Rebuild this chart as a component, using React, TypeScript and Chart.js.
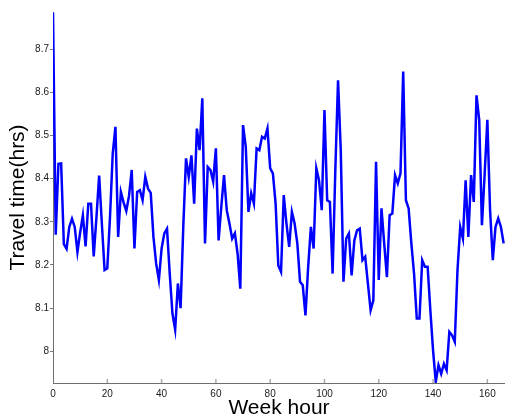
import React, { useEffect, useRef } from "react";
import { Chart, registerables } from "chart.js";

Chart.register(...registerables);

// Average travel time (hours) for each hour of the week, hour 0 .. 166
const TRAVEL_TIME: number[] = [
  8.785, 8.27, 8.434, 8.435, 8.248, 8.237, 8.288, 8.307, 8.288, 8.23,
  8.275, 8.315, 8.243, 8.342, 8.342, 8.22, 8.31, 8.407, 8.296, 8.188,
  8.192, 8.311, 8.458, 8.52, 8.265, 8.369, 8.345, 8.325, 8.36, 8.42,
  8.238, 8.369, 8.373, 8.35, 8.404, 8.377, 8.367, 8.265, 8.203, 8.165,
  8.238, 8.273, 8.284, 8.18, 8.087, 8.05, 8.157, 8.1, 8.29, 8.447,
  8.404, 8.454, 8.342, 8.516, 8.466, 8.586, 8.25, 8.427, 8.42, 8.393,
  8.47, 8.257, 8.335, 8.408, 8.327, 8.296, 8.261, 8.273, 8.226, 8.145,
  8.524, 8.474, 8.323, 8.366, 8.342, 8.47, 8.466, 8.497, 8.493, 8.516,
  8.424, 8.412, 8.342, 8.199, 8.184, 8.362, 8.296, 8.242, 8.323, 8.296,
  8.25, 8.161, 8.153, 8.083, 8.196, 8.288, 8.238, 8.424, 8.396, 8.327,
  8.559, 8.35, 8.346, 8.18, 8.42, 8.628, 8.466, 8.161, 8.261, 8.273,
  8.176, 8.257, 8.28, 8.284, 8.211, 8.219, 8.157, 8.095, 8.118, 8.439,
  8.165, 8.331, 8.25, 8.172, 8.315, 8.319, 8.408, 8.389, 8.412, 8.648,
  8.35, 8.331, 8.25, 8.18, 8.076, 8.076, 8.211, 8.196, 8.196, 8.095,
  8.002, 7.929, 7.968, 7.948, 7.971, 7.956, 8.045, 8.037, 8.022, 8.188,
  8.288, 8.261, 8.396, 8.265, 8.408, 8.346, 8.593, 8.536, 8.292, 8.41,
  8.536, 8.327, 8.211, 8.288, 8.308, 8.288, 8.25,
];

const X_TICKS: number[] = [0, 20, 40, 60, 80, 100, 120, 140, 160];
const Y_TICKS: number[] = [8, 8.1, 8.2, 8.3, 8.4, 8.5, 8.6, 8.7];
const X_TITLE = "Week hour";
const Y_TITLE = "Travel time(hrs)";
const X_MAX = 166.5;

const W = 505;
const H = 417;

export default function App() {
  const ref = useRef<HTMLCanvasElement | null>(null);

  useEffect(() => {
    const canvas = ref.current;
    if (!canvas) return;
    const points = TRAVEL_TIME.map((v, i) => ({ x: i, y: v }));
    const yMin = Math.min(...TRAVEL_TIME);
    const yMax = Math.max(...TRAVEL_TIME);

    const innerTicks = {
      id: "innerXTicks",
      afterDatasetsDraw(chart: any) {
        const { ctx, chartArea, scales } = chart;
        ctx.save();
        ctx.strokeStyle = "#aaaaaa";
        ctx.lineWidth = 1.5;
        X_TICKS.forEach((t) => {
          if (t === 0) return;
          const px = scales.x.getPixelForValue(t);
          ctx.beginPath();
          ctx.moveTo(px, chartArea.bottom);
          ctx.lineTo(px, chartArea.bottom - 4);
          ctx.stroke();
        });
        ctx.restore();
      },
    };

    const chart = new Chart(canvas, {
      type: "line",
      data: {
        datasets: [
          {
            data: points,
            borderColor: "#0000ff",
            borderWidth: 2.5,
            pointRadius: 0,
            tension: 0,
            fill: false,
          },
        ],
      },
      options: {
        animation: false,
        responsive: false,
        devicePixelRatio: 1,
        layout: { padding: { top: 12, right: 0, left: 0, bottom: 0 } },
        plugins: {
          legend: { display: false },
          tooltip: { enabled: false },
          title: { display: false },
        },
        scales: {
          x: {
            type: "linear",
            min: 0,
            max: X_MAX,
            afterBuildTicks: (scale: any) => {
              scale.ticks = X_TICKS.map((v) => ({ value: v }));
            },
            afterFit: (scale: any) => {
              scale.height = 34;
            },
            grid: { display: false, drawOnChartArea: false, drawTicks: false },
            border: { display: true, color: "#6e6e6e", width: 1 },
            ticks: {
              color: "#1a1a1a",
              padding: 5,
              maxRotation: 0,
              autoSkip: false,
              font: { family: "'Liberation Sans', Arial, sans-serif", size: 10 },
              callback: (v: any) => String(v),
            },
            title: {
              display: true,
              text: X_TITLE,
              color: "#000000",
              padding: { top: 0, bottom: 0 },
              font: { family: "'Liberation Sans', Arial, sans-serif", size: 21, lineHeight: 0.8 },
            },
          },
          y: {
            type: "linear",
            min: yMin - 0.0025,
            max: yMax + 0.001,
            afterBuildTicks: (scale: any) => {
              scale.ticks = Y_TICKS.map((v) => ({ value: v }));
            },
            afterFit: (scale: any) => {
              scale.width = 53;
            },
            grid: {
              display: true,
              drawOnChartArea: false,
              drawTicks: true,
              tickLength: 3,
              color: "#7a7a7a",
            },
            border: { display: true, color: "#6e6e6e", width: 1 },
            ticks: {
              color: "#1a1a1a",
              padding: 1,
              autoSkip: false,
              font: { family: "'Liberation Sans', Arial, sans-serif", size: 10 },
              callback: (v: any) => String(Number(Number(v).toFixed(1))),
            },
            title: {
              display: true,
              text: Y_TITLE,
              color: "#000000",
              padding: { top: 8, bottom: 0 },
              font: { family: "'Liberation Sans', Arial, sans-serif", size: 21, lineHeight: 1 },
            },
          },
        },
      },
      plugins: [innerTicks],
    });

    return () => {
      chart.destroy();
    };
  }, []);

  return (
    <div
      style={{
        position: "fixed",
        left: 0,
        top: 0,
        width: W,
        height: H,
        overflow: "hidden",
        background: "#ffffff",
      }}
    >
      <canvas ref={ref} width={W} height={H} style={{ width: W, height: H, display: "block" }} />
    </div>
  );
}
